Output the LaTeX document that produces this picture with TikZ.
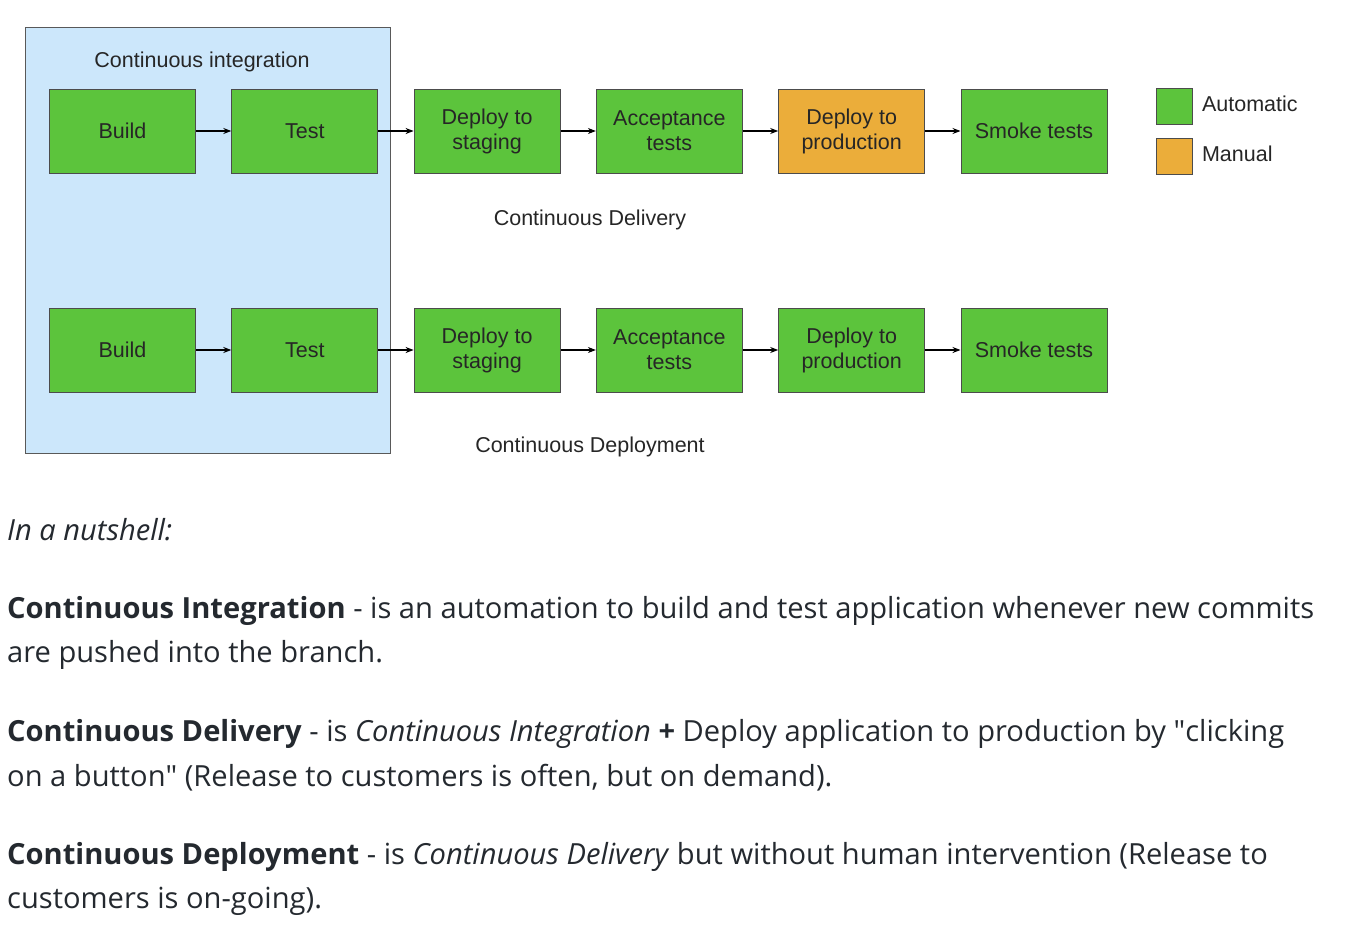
\documentclass[tikz,border=0pt]{standalone}
\usepackage{fontspec}
\setmainfont{Liberation Sans}
\newfontfamily\bodyfont{Open Sans}
\usepackage{tikz}
\usetikzlibrary{arrows.meta, positioning}
\definecolor{stepgreen}{HTML}{5CC43C}
\definecolor{steporange}{HTML}{EBAD3A}
\definecolor{ciblue}{HTML}{CCE7FB}
\definecolor{ghtext}{HTML}{24292F}
\tikzset{
x=1pt, y=-1pt,
node distance=35.3pt,
>={Stealth[length=8pt,width=6pt]},
stage/.style={%
    rectangle,
    minimum width=146pt,
    minimum height=84pt,
    fill=stepgreen,
    draw=black!70,
    line width=1pt,
    align=center,
    inner sep=2pt,
    font=\fontsize{21.5}{25}\selectfont,
    text=black!85
},
manual/.style={stage, fill=steporange},
key/.style={%
    rectangle, minimum size=36pt, draw=black!70, line width=1pt
},
caption/.style={font=\fontsize{21.5}{25}\selectfont, text=black!85},
para/.style={anchor=base west, inner sep=0pt, text=ghtext,
    font=\bodyfont\fontsize{29.1}{45}\selectfont},
}

\begin{document}
\begin{tikzpicture}
\useasboundingbox[fill=white] (0,0) rectangle (1366,926);

% continuous integration area
\draw[fill=ciblue, draw=black!65, line width=1pt] (25,27) rectangle (390,453);
\node[caption] (ci) at (202,62) {Continuous integration};

% delivery pipeline
\node[stage] (build1) at (122.5,131) {Build};
\node[stage,right=of build1] (test1) {Test};
\node[stage,right=of test1] (stage1) {Deploy to\\staging};
\node[stage,right=of stage1] (accept1) {Acceptance\\tests};
\node[manual,right=of accept1] (prod1) {Deploy to\\production};
\node[stage,right=of prod1] (smoke1) {Smoke tests};
\node[caption] (delivery) at (590,220) {Continuous Delivery};

% deployment pipeline
\node[stage] (build2) at (122.5,350) {Build};
\node[stage,right=of build2] (test2) {Test};
\node[stage,right=of test2] (stage2) {Deploy to\\staging};
\node[stage,right=of stage2] (accept2) {Acceptance\\tests};
\node[stage,right=of accept2] (prod2) {Deploy to\\production};
\node[stage,right=of prod2] (smoke2) {Smoke tests};
\node[caption] (deployment) at (590,447) {Continuous Deployment};

\foreach \a/\b in {build/test, test/stage, stage/accept, accept/prod, prod/smoke} {
    \draw[->, black, line width=1.2pt] (\a1) -- (\b1);
    \draw[->, black, line width=1.2pt] (\a2) -- (\b2);
}

% legend
\node[key, fill=stepgreen] (auto) at (1174,106) {};
\node[key, fill=steporange, below=13pt of auto] (man) {};
\node[caption, anchor=west, right=6pt of auto, yshift=2pt] (autotxt) {Automatic};
\node[caption, anchor=west, right=6pt of man, yshift=2pt] (mantxt) {Manual};

% text below
\node[para] (nut) at (7,540) {\itshape In a nutshell:};
\node[para] (ci1) at (7,618) {\textbf{Continuous Integration} - is an automation to build and test application whenever new commits};
\node[para] (ci2) at (7,662) {are pushed into the branch.};
\node[para] (cd1) at (7,741) {\textbf{Continuous Delivery} - is \textit{Continuous Integration} \textbf{+} Deploy application to production by \textquotedbl clicking};
\node[para] (cd2) at (7,786) {on a button\textquotedbl{} (Release to customers is often, but on demand).};
\node[para] (cp1) at (7,864) {\textbf{Continuous Deployment} - is \textit{Continuous Delivery} but without human intervention (Release to};
\node[para] (cp2) at (7,908) {customers is on-going).};

\end{tikzpicture}
\end{document}
